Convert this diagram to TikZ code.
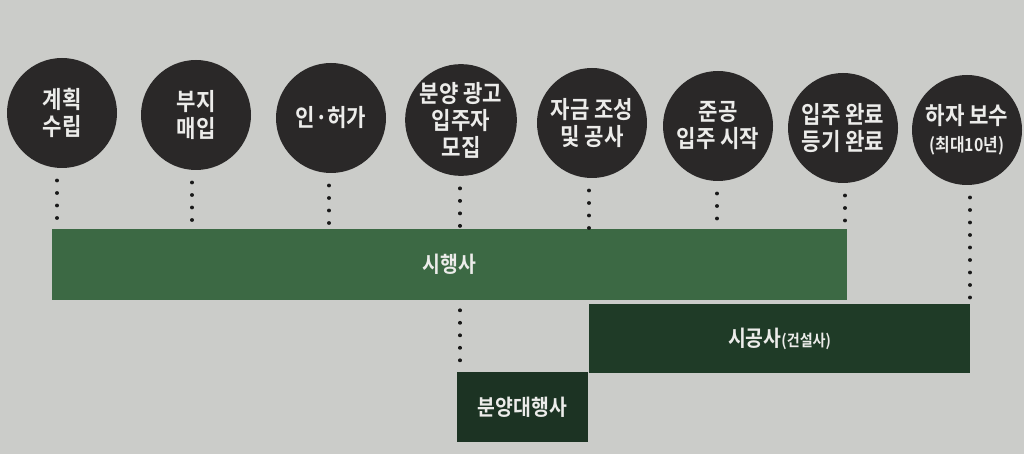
\documentclass[tikz,border=0pt]{standalone}
\usepackage{fontspec}
\setmainfont{Noto Sans CJK KR}
\newfontfamily\krbold[FakeStretch=0.88]{Noto Sans CJK KR Bold}
\definecolor{bgc}{HTML}{CBCCC9}
\definecolor{circc}{HTML}{2A2828}
\definecolor{greenA}{HTML}{3C6944}
\definecolor{greenB}{HTML}{1F3B27}
\definecolor{greenC}{HTML}{1C3323}
\definecolor{txtc}{HTML}{ECECEA}
\tikzset{
  stage/.style={circle, fill=circc, minimum size=110pt, inner sep=0pt, text=txtc, align=center,
     font=\krbold\fontsize{24pt}{27pt}\selectfont},
  barbox/.style={rectangle, inner sep=0pt, text=txtc, font=\krbold\fontsize{22pt}{26pt}\selectfont},
  dots/.style={line width=3.2pt, dash pattern=on 0.6pt off 11.9pt, line cap=round, draw=black!90}
}
\begin{document}
\begin{tikzpicture}[x=1pt,y=-1pt]
\fill[bgc] (0,0) rectangle (1024,454);
\useasboundingbox (0,0) rectangle (1024,454);
% circles
\node[stage] (c1) at (62,113) {계획\\수립};
\node[stage] (c2) at (196,115) {부지\\매입};
\node[stage] (c3) at (331,118) {인·허가};
\node[stage] (c4) at (461,120) {분양 광고\\입주자\\모집};
\node[stage] (c5) at (592,123) {자금 조성\\및 공사};
\node[stage] (c6) at (718,126) {준공\\입주 시작};
\node[stage] (c7) at (843,128) {입주 완료\\등기 완료};
\node[stage] (c8) at (967,130) {하자 보수\\{\fontsize{18pt}{22pt}\selectfont (최대10년)}};
% bars
\node[barbox, fill=greenA, minimum width=795pt, minimum height=71pt] (b1) at (449.5,264.5) {시행사};
\node[barbox, fill=greenB, minimum width=381pt, minimum height=69pt] (b2) at (779.5,338.5) {시공사{\fontsize{16pt}{18pt}\selectfont(건설사)}};
\node[barbox, fill=greenC, minimum width=131pt, minimum height=70pt] (b3) at (522.5,407) {분양대행사};
% dotted connectors
\coordinate (d1) at (57,229);
\coordinate (d2) at (192,229);
\coordinate (d3) at (329,229);
\coordinate (d4) at (460,229);
\coordinate (d5) at (589,229);
\coordinate (d6) at (717,229);
\coordinate (d7) at (845,229);
\coordinate (d8) at (970,304);
\coordinate (e4a) at (460,310);
\coordinate (e4b) at (460,372);
\draw[dots] (c1.south) ++(-5,12) -- (d1);
\draw[dots] (c2.south) ++(-4,12) -- (d2);
\draw[dots] (c3.south) ++(-2,12) -- (d3);
\draw[dots] (c4.south) ++(-1,12) -- (d4);
\draw[dots] (c5.south) ++(-3,12) -- (d5);
\draw[dots] (c6.south) ++(-1,12) -- (d6);
\draw[dots] (c7.south) ++(2,12) -- (d7);
\draw[dots] (c8.south) ++(3,12) -- (d8);
\draw[dots] (e4a) -- (e4b);
\end{tikzpicture}
\end{document}
